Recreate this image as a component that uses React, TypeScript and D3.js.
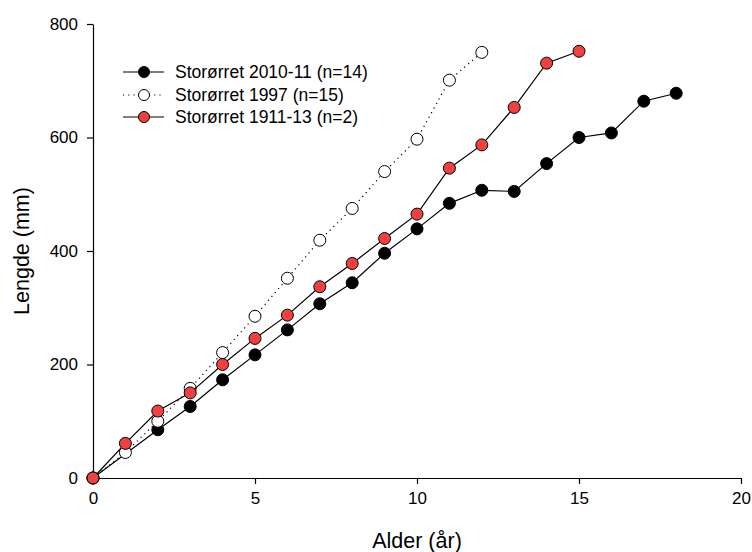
import React, { useEffect, useRef } from "react";
import * as d3 from "d3";

// alder (år)
const ages2010 = [0, 2, 3, 4, 5, 6, 7, 8, 9, 10, 11, 12, 13, 14, 15, 16, 17, 18];
const lengths2010 = [0, 85, 126, 173, 217, 261, 307, 344, 396, 439, 484, 507, 505, 554, 600, 608, 664, 678];

const ages1997 = [0, 1, 2, 3, 4, 5, 6, 7, 8, 9, 10, 11, 12];
const lengths1997 = [0, 45, 100, 158, 221, 285, 352, 419, 475, 540, 597, 701, 750];

const ages1911 = [0, 1, 2, 3, 4, 5, 6, 7, 8, 9, 10, 11, 12, 13, 14, 15];
const lengths1911 = [0, 61, 118, 150, 200, 246, 287, 337, 378, 422, 465, 546, 587, 653, 731, 752];

const xTicks = [0, 5, 10, 15, 20];
const yTicks = [0, 200, 400, 600, 800];

const seriesNames = ["Storørret 2010-11 (n=14)", "Storørret 1997 (n=15)", "Storørret 1911-13 (n=2)"];

const W = 752;
const H = 552;
const margin = { left: 93, right: 11, top: 24, bottom: 74 };
const FONT = "'Liberation Sans', Arial, sans-serif";

export default function App() {
  const svgRef = useRef<SVGSVGElement>(null);

  useEffect(() => {
    const svg = d3.select(svgRef.current);
    svg.selectAll("*").remove();

    const x = d3.scaleLinear().domain([0, 20]).range([margin.left, W - margin.right]);
    const y = d3.scaleLinear().domain([0, 800]).range([H - margin.bottom, margin.top]);

    // axes
    const xAxis = d3.axisBottom(x).tickValues(xTicks).tickSize(6).tickSizeOuter(0).tickPadding(8);
    const gx = svg.append("g").attr("transform", `translate(0,${y(0)})`).call(xAxis);
    const yAxis = d3.axisLeft(y).tickValues(yTicks).tickSize(6).tickSizeOuter(0).tickPadding(9);
    const gy = svg.append("g").attr("transform", `translate(${x(0)},0)`).call(yAxis);
    [gx, gy].forEach(g => {
      g.selectAll("path, line").attr("stroke", "#000").attr("stroke-width", 1.2);
      g.selectAll("text").attr("font-family", FONT).attr("font-size", 17).attr("fill", "#000");
    });

    svg.append("text")
      .attr("x", (x(0) + x(20)) / 2)
      .attr("y", 548)
      .attr("text-anchor", "middle")
      .attr("font-family", FONT)
      .attr("font-size", 21.5)
      .text("Alder (år)");
    svg.append("text")
      .attr("transform", `translate(29,${(y(0) + y(800)) / 2}) rotate(-90)`)
      .attr("text-anchor", "middle")
      .attr("font-family", FONT)
      .attr("font-size", 21.5)
      .text("Lengde (mm)");

    const series = [
      { xs: ages2010, ys: lengths2010, fill: "#000000", dash: null as string | null, name: seriesNames[0] },
      { xs: ages1997, ys: lengths1997, fill: "#ffffff", dash: "1.2,4", name: seriesNames[1] },
      { xs: ages1911, ys: lengths1911, fill: "#f04040", dash: null, name: seriesNames[2] },
    ];

    const lineGen = d3.line<[number, number]>().x(d => x(d[0])).y(d => y(d[1]));

    series.forEach(s => {
      const pts: [number, number][] = s.xs.map((a, i) => [a, s.ys[i]]);
      svg.append("path")
        .datum(pts)
        .attr("d", lineGen)
        .attr("fill", "none")
        .attr("stroke", "#000")
        .attr("stroke-width", 1.2)
        .attr("stroke-dasharray", s.dash);
      svg.append("g").selectAll("circle")
        .data(pts)
        .enter().append("circle")
        .attr("cx", d => x(d[0]))
        .attr("cy", d => y(d[1]))
        .attr("r", 6)
        .attr("fill", s.fill)
        .attr("stroke", "#000")
        .attr("stroke-width", 1);
    });

    // legend
    const leg = svg.append("g");
    const legRows = [72, 95, 117];
    series.forEach((s, i) => {
      const ly = legRows[i];
      leg.append("line")
        .attr("x1", 123).attr("x2", 164).attr("y1", ly).attr("y2", ly)
        .attr("stroke", "#000").attr("stroke-width", 1.2)
        .attr("stroke-dasharray", s.dash);
      leg.append("circle")
        .attr("cx", 144).attr("cy", ly).attr("r", 5.5)
        .attr("fill", s.fill).attr("stroke", "#000").attr("stroke-width", 1);
      leg.append("text")
        .attr("x", 175).attr("y", ly).attr("dy", "0.35em")
        .attr("font-family", FONT).attr("font-size", 17.5)
        .text(s.name);
    });
  }, []);

  return (
    <svg ref={svgRef} width={W} height={H} style={{ position: "absolute", left: 0, top: 0, background: "#fff" }} />
  );
}
